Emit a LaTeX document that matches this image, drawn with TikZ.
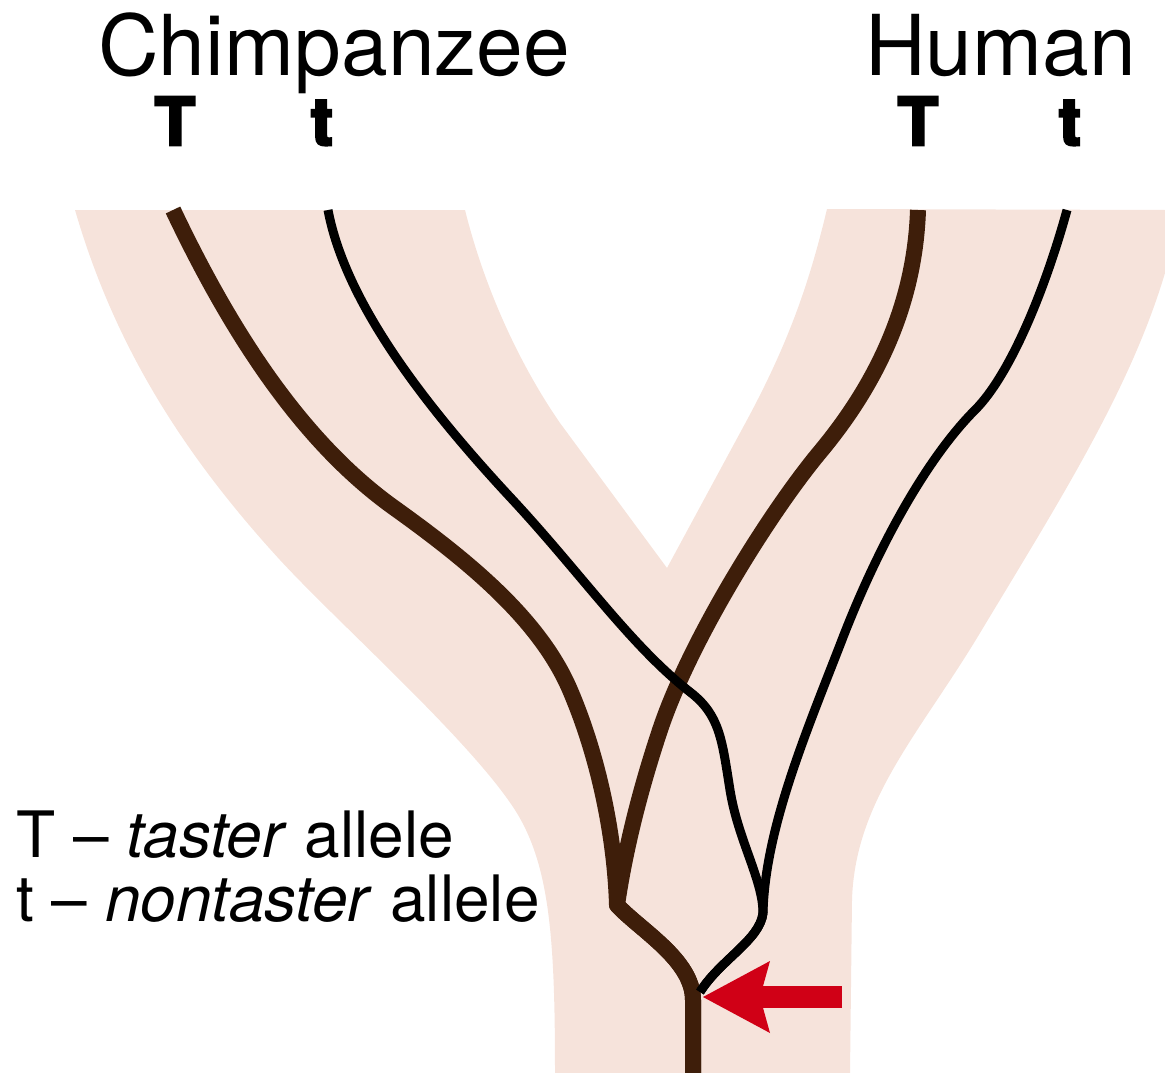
\documentclass[tikz,border=0pt]{standalone}
\usepackage{fontspec}
\setmainfont{TeX Gyre Heros}
\newfontfamily\heavyfont{TeX Gyre Heros}[BoldFeatures={FakeBold=4}]
\usetikzlibrary{arrows.meta}
\definecolor{skin}{RGB}{246,227,219}
\definecolor{tbrown}{RGB}{62,30,10}
\definecolor{arrred}{RGB}{208,0,22}

\begin{document}
\begin{tikzpicture}[x=1pt, y=-1pt,
  species/.style={font=\fontsize{84}{90}\selectfont, inner sep=0pt, anchor=base west},
  allele/.style={font=\fontsize{66}{70}\selectfont\heavyfont\bfseries, inner sep=0pt, anchor=base},
  keytext/.style={font=\fontsize{64}{70}\selectfont, inner sep=0pt, anchor=base west},
  tline/.style={tbrown, line width=16pt, line join=round},
  nline/.style={black, line width=9pt, line join=round},
  redarr/.style={arrred, line width=22pt, -{Stealth[length=67pt, width=72pt, inset=10pt, line width=0pt]}}]
\useasboundingbox (0,0) rectangle (1165,1073);

% the two lineages
\fill[skin] (75,210) .. controls (110,330) and (170,440) .. (280,560)
  .. controls (340,625) and (470,740) .. (515,810)
  .. controls (550,865) and (555,940) .. (555,1073)
  -- (850,1073) -- (852,900)
  .. controls (855,800) and (920,733) .. (980,633)
  .. controls (1060,500) and (1130,390) .. (1165,273)
  -- (1165,210) -- (827,209)
  .. controls (810,280) and (790,340) .. (747,420)
  -- (667,568) -- (560,423)
  .. controls (520,365) and (485,290) .. (465,210)
  -- cycle;

% labels
\node[species] (chimp) at (98,75) {Chimpanzee};
\node[species] (human) at (865,75) {Human};
\node[allele] (chimpT) at (175,145) {T};
\node[allele] (chimpt) at (322,145) {t};
\node[allele] (humanT) at (918,145) {T};
\node[allele] (humant) at (1070,145) {t};
\node[keytext] (keyT) at (16,857) {T -- \textit{taster} allele};
\node[keytext] (keyt) at (16,921) {t -- \textit{nontaster} allele};

\coordinate (topcT) at (173,210);
\coordinate (topct) at (328,210);
\coordinate (tophT) at (918,210);
\coordinate (topht) at (1067,210);
\coordinate (kinkT) at (617,905);
\coordinate (kinkt) at (763,913);
\coordinate (junc) at (703,997);
\coordinate (root) at (693,1073);
\coordinate (arrtail) at (842,997);

% taster allele
\draw[tline] (topcT) .. controls (230,330) and (300,440) .. (393,507)
  .. controls (470,562) and (540,620) .. (570,690)
  .. controls (600,760) and (615,840) .. (kinkT)
  .. controls (640,930) and (693,960) .. (693,1000) -- (root);
\draw[tline] (tophT) .. controls (915,300) and (880,380) .. (820,452)
  .. controls (770,512) and (690,640) .. (660,730)
  .. controls (640,790) and (625,850) .. (kinkT)
  .. controls (640,930) and (693,960) .. (693,1000) -- (root);

% nontaster allele
\draw[nline] (topct) .. controls (345,300) and (420,400) .. (510,497)
  .. controls (580,572) and (630,645) .. (690,692)
  .. controls (720,715) and (722,740) .. (730,790)
  .. controls (738,840) and (763,880) .. (kinkt)
  .. controls (760,940) and (720,960) .. (700,992);
\draw[nline] (topht) .. controls (1045,290) and (1010,375) .. (975,410)
  .. controls (930,455) and (880,540) .. (840,645)
  .. controls (805,735) and (765,830) .. (kinkt)
  .. controls (760,940) and (720,960) .. (700,992);

\draw[redarr] (arrtail) -- (junc);
\end{tikzpicture}
\end{document}
